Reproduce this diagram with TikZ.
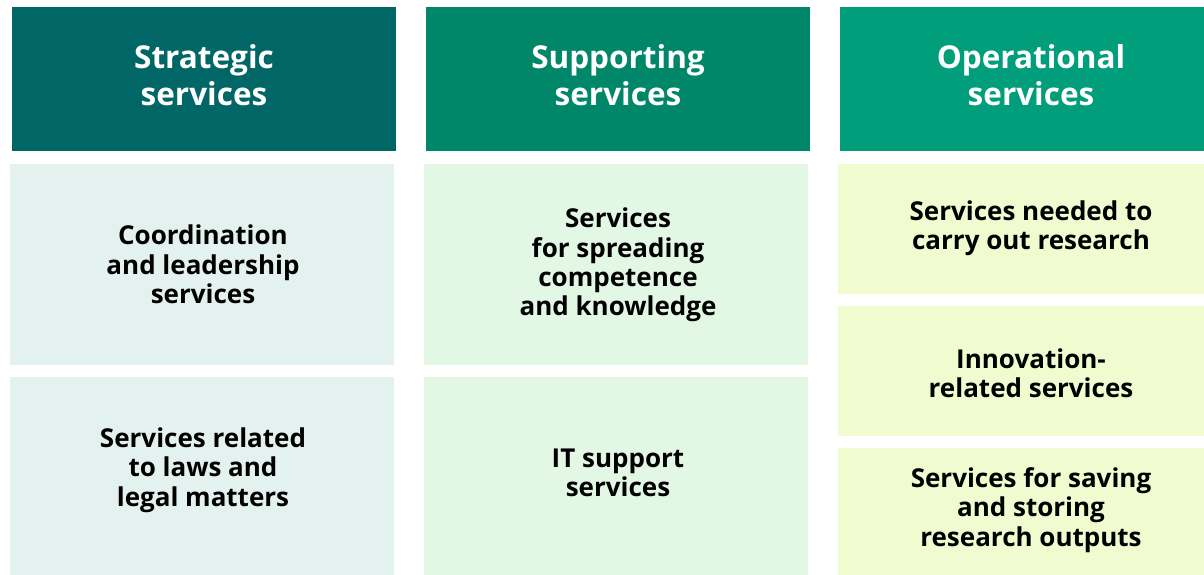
\documentclass[tikz,border=0pt]{standalone}
\usepackage{fontspec}
\setmainfont{Open Sans}
\definecolor{hA}{HTML}{006666}
\definecolor{hB}{HTML}{00876A}
\definecolor{hC}{HTML}{009E7B}
\definecolor{bA}{HTML}{E3F2EE}
\definecolor{bB}{HTML}{E3F8E4}
\definecolor{bC}{HTML}{F0FBD0}
\begin{document}
\begin{tikzpicture}[x=1pt,y=-1pt,
  head/.style={font=\fontsize{31.5}{37}\selectfont\bfseries, text=white, align=center},
  body/.style={font=\fontsize{26}{29.3}\selectfont\bfseries, text=black, align=center}]
\useasboundingbox (0,0) rectangle (1204,574);
\clip (0,0) rectangle (1204,574);
% headers
\fill[hA] (12,7) rectangle (396,151);
\fill[hB] (426,7) rectangle (810,151);
\fill[hC] (840,7) rectangle (1224,151);
% bodies
\fill[bA] (10,164) rectangle (394,365);
\fill[bA] (10,377) rectangle (394,580);
\fill[bB] (424,164) rectangle (808,365);
\fill[bB] (424,377) rectangle (808,580);
\fill[bC] (838,164) rectangle (1224,294);
\fill[bC] (838,306) rectangle (1224,436);
\fill[bC] (838,448) rectangle (1224,580);
% texts
\node[head] (h1) at (204,75) {Strategic\\services};
\node[head] (h2) at (618,75) {Supporting\\services};
\node[head] (h3) at (1031,75) {Operational\\services};
\node[body] (a1) at (203,264.5) {Coordination\\and leadership\\services};
\node[body] (a2) at (203,470) {Services related\\to laws and\\legal matters};
\node[body] (b1) at (618,265) {Services\\for spreading\\competence\\and knowledge};
\node[body] (b2) at (618,473) {IT support\\services};
\node[body] (c1) at (1031,228.5) {Services needed to\\carry out research};
\node[body] (c2) at (1031,373.5) {Innovation-\\related services};
\node[body] (c3) at (1031,510) {Services for saving\\and storing\\research outputs};
\end{tikzpicture}
\end{document}
